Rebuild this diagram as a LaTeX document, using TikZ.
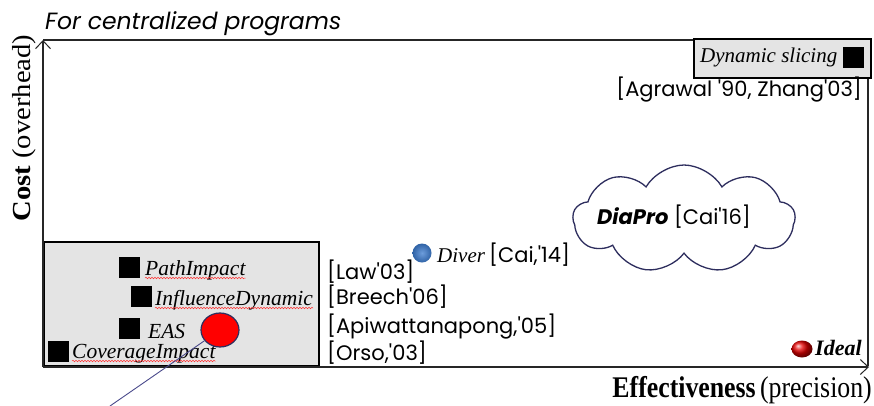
\documentclass[tikz,border=0pt]{standalone}
\usepackage{fontspec}
\setmainfont{Liberation Serif}
\newfontfamily\gothic{Poppins}
\usetikzlibrary{arrows.meta,shapes.geometric,shapes.symbols,decorations.pathmorphing}
\definecolor{boxgray}{HTML}{E4E4E4}
\definecolor{navy}{HTML}{2E2E5E}
\definecolor{linkblue}{HTML}{4A4A8C}
\definecolor{ballblue}{HTML}{3C7CD0}
\tikzset{
  axis/.style={line width=1.3pt, draw=black!85},
  chevron/.style={-{Straight Barb[length=8pt,width=15pt,line width=1pt]}},
  grayframe/.style={draw=black, fill=boxgray, line width=2pt, inner sep=0pt, anchor=north west},
  sq/.style={fill=black, minimum size=21pt, inner sep=0pt, anchor=north west},
  ser/.style={font=\fontsize{21.5}{24}\selectfont\itshape, inner sep=0pt, anchor=base west},
  ref/.style={font=\gothic\fontsize{21}{24}\selectfont, inner sep=0pt, anchor=base west},
  squig/.style={draw=red!80, line width=0.5pt, decorate, decoration={snake, amplitude=0.8pt, segment length=3pt}}
}
\begin{document}
\begin{tikzpicture}[x=1pt,y=-1pt]
\useasboundingbox (0,0) rectangle (874,405);
\fill[white] (0,0) rectangle (874,405);
% frame and axes
\coordinate (O) at (43,367);
\coordinate (ytop) at (43,40);
\coordinate (xend) at (869,367);
\coordinate (corner) at (868,40);
\draw[axis] (ytop) -- (corner) -- (868,366);
% left gray box
\node[grayframe, minimum width=275pt, minimum height=124pt] (lbox) at (43,241) {};
\draw[axis, chevron] (O) -- (ytop);
\draw[axis, chevron, line width=2pt] (O) -- (xend);
% title
\node[font=\gothic\fontsize{23.5}{26}\selectfont\itshape, inner sep=0pt, anchor=base west] (title) at (45,29) {For centralized programs};
% axis labels
\node[rotate=90, inner sep=0pt, anchor=center] (ylab) at (24,128) {\scalebox{1.1}[1]{\fontsize{26}{28}\selectfont\textbf{Cost} (overhead)}};
\node[inner sep=0pt, anchor=base east] (xlab) at (872,397) {\scalebox{0.86}[1]{\fontsize{30}{32}\selectfont\textbf{Effectiveness}\,(precision)}};
% top right box
\node[grayframe, minimum width=177pt, minimum height=39pt] (dsbox) at (693,38) {};
\node[ser, font=\fontsize{21}{24}\selectfont\itshape] (ds) at (700,62) {Dynamic slicing};
\node[sq] (dssq) at (843,47) {};
\node[ref, anchor=base east] (agr) at (862,96) {[Agrawal '90, Zhang'03]};
% items in the gray box
\node[sq] (sq1) at (119,257) {};
\node[ser] (pi) at (145,275) {PathImpact};
\node[sq] (sq2) at (131,286) {};
\node[ser] (id) at (155,305) {InfluenceDynamic};
\node[sq] (sq3) at (119,318) {};
\node[ser] (eas) at (148,338) {EAS};
\node[sq] (sq4) at (48,341) {};
\node[ser] (ci) at (72,358) {CoverageImpact};
\foreach \n in {pi,id,ci}{
  \draw[squig] ([yshift=-3pt]\n.base west) -- ([yshift=-3pt]\n.base east);
}
% references
\node[ref] (law) at (327,279) {[Law'03]};
\node[ref] (bre) at (327,304) {[Breech'06]};
\node[ref] (api) at (327,333) {[Apiwattanapong,'05]};
\node[ref] (ors) at (327,360) {[Orso,'03]};
% red marker and its line
\node[ellipse, draw=navy, line width=1.2pt, fill=red, minimum width=38pt, minimum height=34pt, inner sep=0pt] (redc) at (220,330) {};
\coordinate (lineend) at (110,406);
\draw[linkblue, line width=0.9pt] (redc) -- (lineend);
% Diver
\node[circle, shading=radial, inner color=ballblue!75!white, outer color=ballblue!80!black, minimum size=19pt, inner sep=0pt] (diverdot) at (422,253) {};
\node[ser, font=\fontsize{21}{24}\selectfont\itshape] (diver) at (437,262) {Diver};
\node[ref] (cai14) at (489,262) {[Cai,'14]};
% DiaPro cloud
\node[cloud, draw=navy, line width=1.3pt, fill=white, cloud puffs=9, cloud puff arc=120, aspect=2.1, minimum width=222pt, minimum height=108pt, inner sep=0pt] (cloud) at (684,219) {};
\node[ref] (diapro) at (597,224) {\textbf{\itshape DiaPro} [Cai'16]};
% Ideal
\node[ellipse, shading=ball, ball color=red!90!black, minimum width=21pt, minimum height=17pt, inner sep=0pt] (idealdot) at (802,349) {};
\node[ser, font=\fontsize{22}{24}\selectfont\bfseries\itshape] (ideal) at (815,355) {Ideal};
\end{tikzpicture}
\end{document}
